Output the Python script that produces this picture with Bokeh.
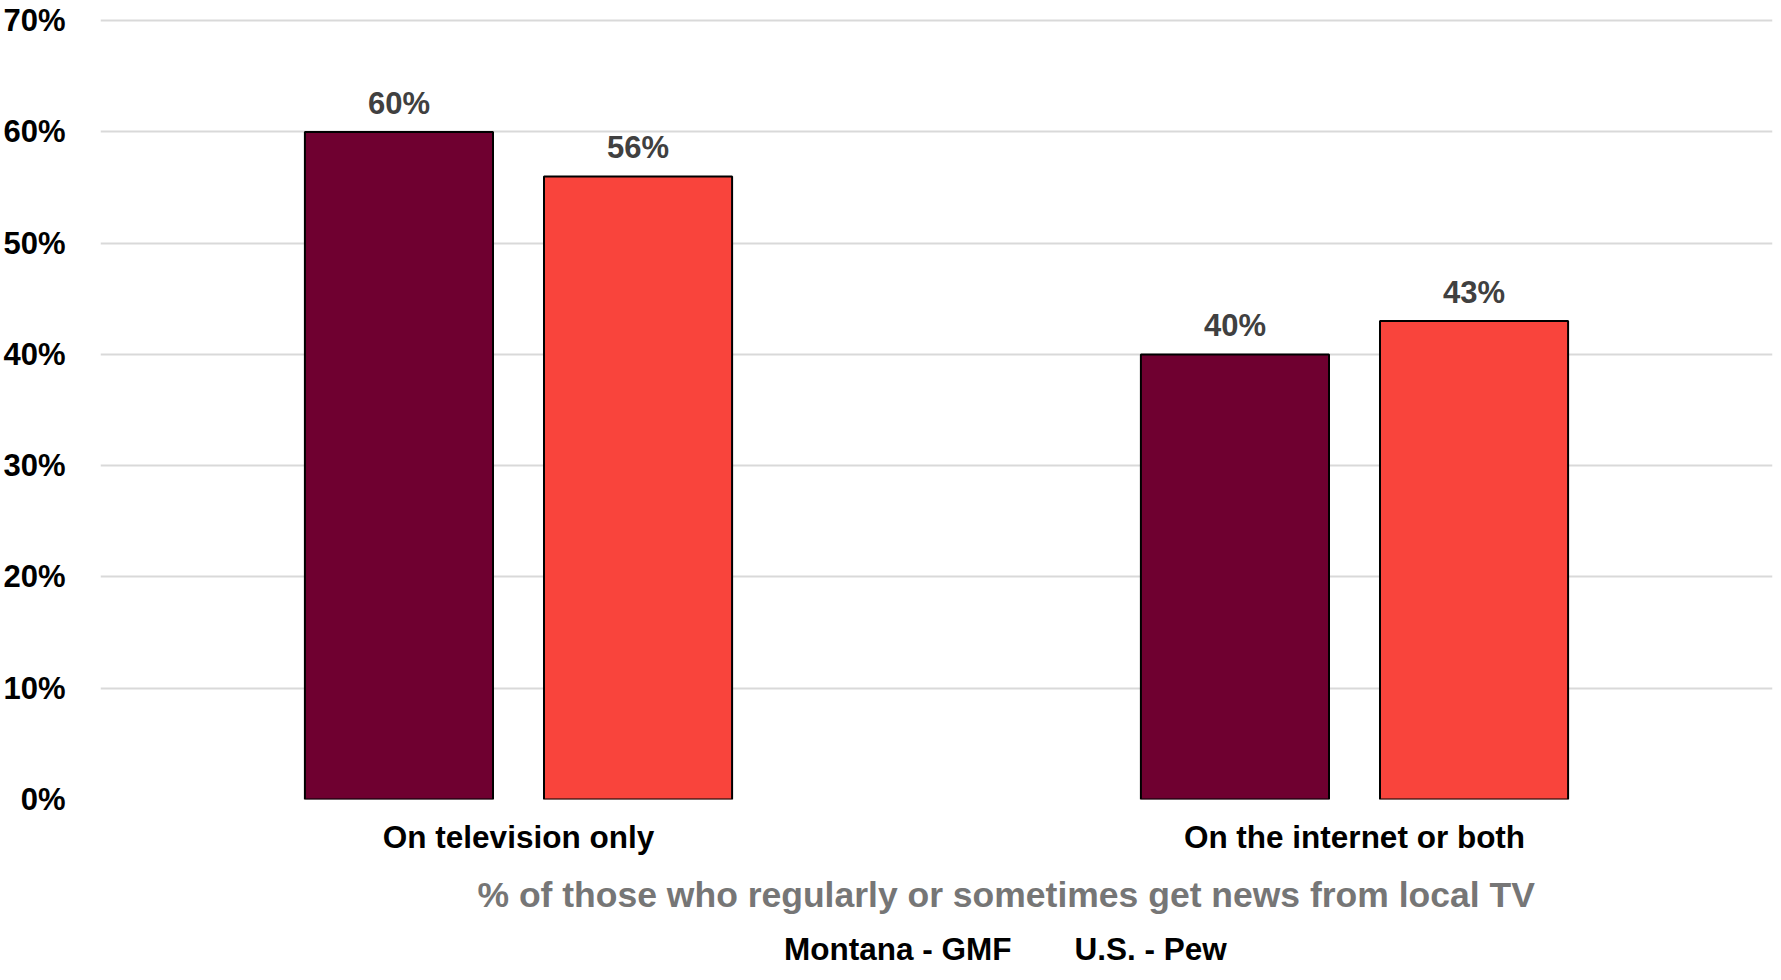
from bokeh.plotting import figure
from bokeh.layouts import column
from bokeh.models import (FactorRange, ColumnDataSource, LabelSet, Title, Legend, LegendItem,
                          PrintfTickFormatter, SingleIntervalTicker)
from bokeh.core.properties import value
from bokeh.transform import dodge
from bokeh.embed import file_html
from bokeh.resources import INLINE

categories = ["On television only", "On the internet or both"]
montana_gmf = [60, 40]
us_pew = [56, 43]
series_names = ["Montana - GMF", "U.S. - Pew"]
x_title = "% of those who regularly or sometimes get news from local TV"

FONT = "Liberation Sans"
C_MT = "#6F0030"
C_US = "#F9443C"

src = ColumnDataSource(dict(
    cat=categories,
    mt=montana_gmf,
    us=us_pew,
    mt_lbl=[f"{v}%" for v in montana_gmf],
    us_lbl=[f"{v}%" for v in us_pew],
))

p = figure(frame_width=1672, frame_height=781,
           x_range=FactorRange(*categories, range_padding=0, factor_padding=0),
           y_range=(0, 70.2), output_backend="svg", toolbar_location=None,
           min_border_left=92, min_border_right=1, min_border_top=18, min_border_bottom=0)
p.outline_line_color = None
p.xgrid.grid_line_color = None
p.ygrid.grid_line_color = "#D9D9D9"
p.ygrid.grid_line_width = 2

p.yaxis.ticker = SingleIntervalTicker(interval=10)
p.yaxis.formatter = PrintfTickFormatter(format="%d%%")
for ax in (p.xaxis[0], p.yaxis[0]):
    ax.axis_line_color = None
    ax.major_tick_line_color = None
    ax.minor_tick_line_color = None
    ax.major_label_text_font = FONT
    ax.major_label_text_font_style = "bold"
    ax.major_label_text_color = "#000000"
p.yaxis.major_label_text_font_size = "31px"
p.xaxis.major_label_text_font_size = "31.5px"
p.yaxis.major_label_standoff = 29
p.xaxis.major_label_standoff = 13

off = 0.143
w = 0.225
p.vbar(x=dodge("cat", -off, range=p.x_range), top="mt", width=w, source=src,
       fill_color=C_MT, line_color="#000000", line_width=2)
p.vbar(x=dodge("cat", off, range=p.x_range), top="us", width=w, source=src,
       fill_color=C_US, line_color="#000000", line_width=2)

for col, lbl, d in (("mt", "mt_lbl", -off), ("us", "us_lbl", off)):
    p.add_layout(LabelSet(x=dodge("cat", d, range=p.x_range), y=col, text=lbl, source=src,
                          text_align="center", text_baseline="alphabetic", y_offset=18,
                          text_font=value(FONT), text_font_style="bold", text_font_size="31px",
                          text_color="#404040"))

p.add_layout(Title(text=x_title, align="left", offset=377, standoff=31,
                   text_font=FONT, text_font_style="bold", text_font_size="35.5px",
                   text_color="#767676"), "below")

# separate strip holding the legend
p2 = figure(width=1765, height=40, x_range=(0, 1), y_range=(0, 1), output_backend="svg",
            toolbar_location=None, min_border=0, x_axis_location=None, y_axis_location=None)
p2.outline_line_color = None
p2.grid.grid_line_color = None
lg1 = p2.vbar(x=[], top=[], width=0.1, fill_color=C_MT, line_color="#000000", line_width=2)
lg2 = p2.vbar(x=[], top=[], width=0.1, fill_color=C_US, line_color="#000000", line_width=2)

legend = Legend(items=[LegendItem(label=series_names[0], renderers=[lg1]),
                       LegendItem(label=series_names[1], renderers=[lg2])],
                location=(659, 2), orientation="horizontal",
                glyph_width=18, glyph_height=18, label_standoff=7, spacing=38,
                padding=0, margin=0, border_line_color=None, background_fill_alpha=0,
                label_text_font=FONT, label_text_font_style="bold", label_text_font_size="31.5px",
                label_text_color="#000000", label_height=30)
p2.add_layout(legend, "center")

layout = column(p, p2, spacing=0)
open("out.html", "w").write(file_html(layout, INLINE))
